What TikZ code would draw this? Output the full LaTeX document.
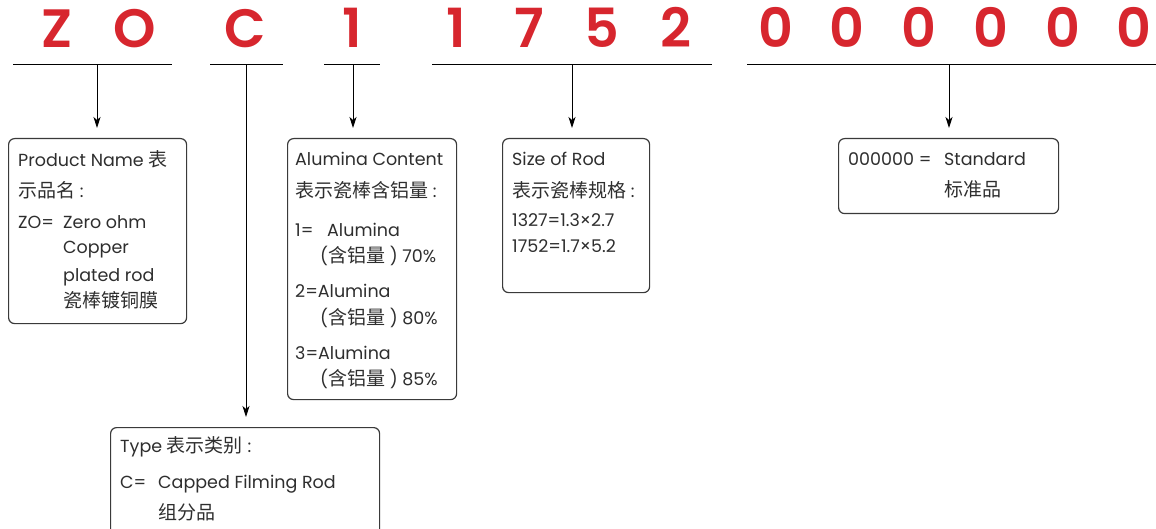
\documentclass[tikz,border=0pt]{standalone}
\usepackage{fontspec}
\setmainfont{Poppins}
\newfontfamily\cjk{Noto Sans CJK SC}
\newfontfamily\codefont{Poppins}[UprightFont=* SemiBold]
\newcommand\zh[1]{{\cjk\fontsize{19}{19}\selectfont #1}}
\usetikzlibrary{arrows.meta}
\definecolor{codered}{HTML}{D7262E}
\definecolor{txt}{HTML}{2E2E2E}
\definecolor{frame}{HTML}{3A3A3A}
\tikzset{
  letter/.style={anchor=base, inner sep=0, text=codered, font=\codefont\fontsize{54}{54}\selectfont},
  uline/.style={line width=1pt, black},
  arr/.style={line width=0.9pt, black, -{Stealth[length=11pt,width=7pt,inset=3pt]}, shorten >=10pt},
  box/.style={draw=frame, line width=1.2pt, rounded corners=6pt, inner sep=0, anchor=north west},
  tx/.style={anchor=base west, inner sep=0, text=txt, font=\fontsize{17.5}{17.5}\selectfont},
}
\begin{document}
\begin{tikzpicture}[x=1pt,y=-1pt]
\useasboundingbox (0,0) rectangle (1156,529);
% code letters
\node[letter] (lz) at (57,48) {Z};
\node[letter] (lo) at (135,48) {O};
\node[letter] (lc) at (245,48) {C};
\node[letter] (l1) at (352,48) {1};
\node[letter] (s1) at (456,48) {1};
\node[letter] (s2) at (529,48) {7};
\node[letter] (s3) at (602,48) {5};
\node[letter] (s4) at (676,48) {2};
\foreach \i/\x in {1/776,2/847,3/919,4/991,5/1063,6/1134}{
  \node[letter] (z\i) at (\x,48) {0};
}
% underlines
\draw[uline] (13,65) -- (172,65);
\draw[uline] (210,65) -- (283,65);
\draw[uline] (324,65) -- (380,65);
\draw[uline] (432,65) -- (712,65);
\draw[uline] (747,65) -- (1156,65);
\coordinate (u1) at (97,65);
\coordinate (u2) at (246,65);
\coordinate (u3) at (353,65);
\coordinate (u4) at (572,65);
\coordinate (u5) at (949,65);
% boxes
\node[box, minimum width=178pt, minimum height=185pt] (bpn) at (8,138) {};
\node[box, minimum width=169pt, minimum height=261pt] (bal) at (287,138) {};
\node[box, minimum width=147pt, minimum height=154pt] (bsz) at (502,138) {};
\node[box, minimum width=220pt, minimum height=75pt] (bst) at (838,138) {};
\node[box, minimum width=269pt, minimum height=115pt] (bty) at (110,427) {};
% arrows
\draw[arr] (u1) -- (u1 |- bpn.north);
\draw[arr] (u2) -- (u2 |- bty.north);
\draw[arr] (u3) -- (u3 |- bal.north);
\draw[arr] (u4) -- (u4 |- bsz.north);
\draw[arr] (u5) -- (u5 |- bst.north);
% product name
\node[tx] (p1) at (18,167) {Product Name \zh{表}};
\node[tx] (p2) at (18,198) {\zh{示品名} :};
\node[tx] (p3) at (18,229) {ZO=};
\node[tx] (p4) at (63,229) {Zero ohm};
\node[tx] (p5) at (63,254) {Copper};
\node[tx] (p6) at (63,281) {plated rod};
\node[tx] (p7) at (63,307) {\zh{瓷棒镀铜膜}};
% alumina
\node[tx] (a1) at (295,166) {Alumina Content};
\node[tx] (a2) at (295,198) {\zh{表示瓷棒含铝量} :};
\node[tx] (a3) at (295,237) {1=};
\node[tx] (a4) at (327,237) {Alumina};
\node[tx] (a5) at (320,263) {(\zh{含铝量} ) 70\%};
\node[tx] (a6) at (295,298) {2=Alumina};
\node[tx] (a7) at (320,324) {(\zh{含铝量} ) 80\%};
\node[tx] (a8) at (295,359) {3=Alumina};
\node[tx] (a9) at (320,385) {(\zh{含铝量} ) 85\%};
% size
\node[tx] (r1) at (512,166) {Size of Rod};
\node[tx] (r2) at (512,198) {\zh{表示瓷棒规格} :};
\node[tx] (r3) at (512,227) {1327=1.3×2.7};
\node[tx] (r4) at (512,253) {1752=1.7×5.2};
% standard
\node[tx] (t1) at (848,166) {000000 =};
\node[tx] (t2) at (944,166) {Standard};
\node[tx] (t3) at (944,197) {\zh{标准品}};
% type
\node[tx] (y1) at (120,452) {Type \zh{表示类别} :};
\node[tx] (y2) at (120,488) {C=};
\node[tx] (y3) at (158,488) {Capped Filming Rod};
\node[tx] (y4) at (158,519) {\zh{组分品}};
\end{tikzpicture}
\end{document}
